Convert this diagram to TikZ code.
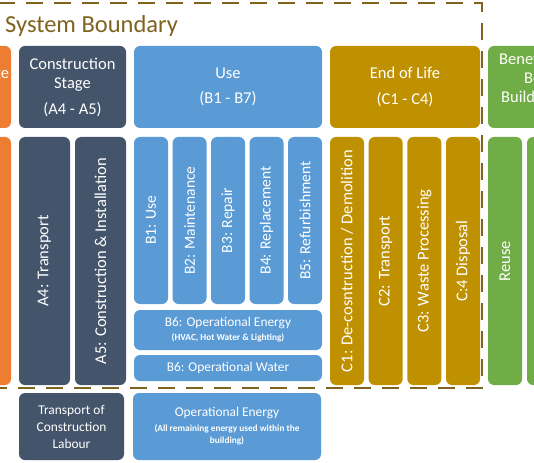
\documentclass[tikz,border=0pt]{standalone}
\usepackage{fontspec}
\setmainfont{Carlito}
\definecolor{orng}{HTML}{ED7D31}
\definecolor{slate}{HTML}{44546A}
\definecolor{blu}{HTML}{5B9BD5}
\definecolor{gld}{HTML}{BF9000}
\definecolor{grn}{HTML}{70AD47}
\definecolor{bnd}{RGB}{127,99,30}
\newcommand\hfnt{\fontsize{16.5}{19.5}\selectfont}
\newcommand\cfnt{\fontsize{15.5}{18}\selectfont}
\newcommand\mfnt{\fontsize{13.4}{17}\selectfont}
\newcommand\sfnt{\fontsize{9.3}{12}\selectfont\bfseries}
\begin{document}
\begin{tikzpicture}[x=1pt,y=-1pt,
  box/.style={rounded corners=6pt, inner sep=0pt, outer sep=0pt, text=white, align=center},
  hdr/.style={box, font=\hfnt, minimum height=82pt},
  vcol/.style={box, rotate=90, font=\hfnt, minimum width=248pt, minimum height=34pt},
  bcol/.style={box, rotate=90, font=\cfnt, minimum width=167pt, minimum height=34pt},
  wbox/.style={box, font=\mfnt},
  ofill/.style={fill=orng}, sfill/.style={fill=slate}, bfill/.style={fill=blu},
  gfill/.style={fill=gld}, nfill/.style={fill=grn},
  ghtxt/.style={anchor=base west, inner sep=0pt, text=white, font=\hfnt}]
\useasboundingbox (0,0) rectangle (534,462);
\clip (0,0) rectangle (534,462);
\fill[white] (0,0) rectangle (534,462);

% title and boundary
\node[anchor=base west, inner sep=0pt, text=bnd, font=\fontsize{24.5}{28}\selectfont] (title) at (5,33) {System Boundary};
\draw[bnd, line width=2.5pt, dash pattern=on 17pt off 11pt] (-30,3) -- (482,3) -- (482,388) -- (-30,388);

% headers
\node[hdr, ofill, minimum width=97pt] (prod) at (-37.5,87) {Product Stage\\[6pt]\phantom{(A1 - A3)}};
\node[hdr, sfill, minimum width=107pt] (cons) at (72.5,87) {Construction\\Stage\\[6pt](A4 - A5)};
\node[hdr, bfill, minimum width=188pt] (use) at (228,87) {Use\\[6pt](B1 - B7)};
\node[hdr, gfill, minimum width=150pt] (eol) at (405,87) {End of Life\\[6pt](C1 - C4)};
\node[hdr, nfill, minimum width=152pt] (ben) at (564,87) {};
\node[ghtxt] (ben1) at (499,65) {Benefits and Loads};
\node[ghtxt] (ben2) at (524,84) {Beyond the};
\node[ghtxt] (ben3) at (501,103) {Building Life Cycle};

% product stage body
\node[vcol, ofill, minimum height=56pt] (a3) at (-17,261) {};
\node[box, rotate=90, font=\hfnt, anchor=east] (a3t) at (-7,196) {A3: Manufacturing};

% construction stage
\node[vcol, sfill, minimum height=51pt] (a4) at (44.5,261) {A4: Transport};
\node[vcol, sfill, minimum height=51pt] (a5) at (100.5,261) {A5: Construction \& Installation};

% use stage
\node[bcol, bfill] (b1) at (151,220.5) {B1: Use};
\node[bcol, bfill] (b2) at (189.5,220.5) {B2: Maintenance};
\node[bcol, bfill] (b3) at (228,220.5) {B3: Repair};
\node[bcol, bfill] (b4) at (266.5,220.5) {B4: Replacement};
\node[bcol, bfill] (b5) at (305,220.5) {B5: Refurbishment};
\node[wbox, bfill, minimum width=188pt, minimum height=40pt] (b6e) at (228,330)
  {B6: Operational Energy\\[-3pt]{\sfnt (HVAC, Hot Water \& Lighting)}};
\node[wbox, bfill, minimum width=188pt, minimum height=26pt] (b6w) at (228,368) {B6: Operational Water};

% end of life
\node[vcol, gfill] (c1) at (347,261) {C1: De-cosntruction / Demolition};
\node[vcol, gfill] (c2) at (385.67,261) {C2: Transport};
\node[vcol, gfill] (c3) at (424.33,261) {C3: Waste Processing};
\node[vcol, gfill] (c4) at (463,261) {C:4 Disposal};

% beyond
\node[vcol, nfill] (reuse) at (505,261) {Reuse};
\node[vcol, nfill] (d2) at (544,261) {};

% outside boundary
\node[wbox, sfill, minimum width=105pt, minimum height=67pt] (tcl) at (71.5,426.5) {Transport of\\Construction\\Labour};
\node[wbox, bfill, minimum width=188pt, minimum height=67pt] (oe) at (227,426.5)
  {Operational Energy\\[-2pt]{\sfnt (All remaining energy used within the}\\[-5pt]{\sfnt building)}};
\end{tikzpicture}
\end{document}
